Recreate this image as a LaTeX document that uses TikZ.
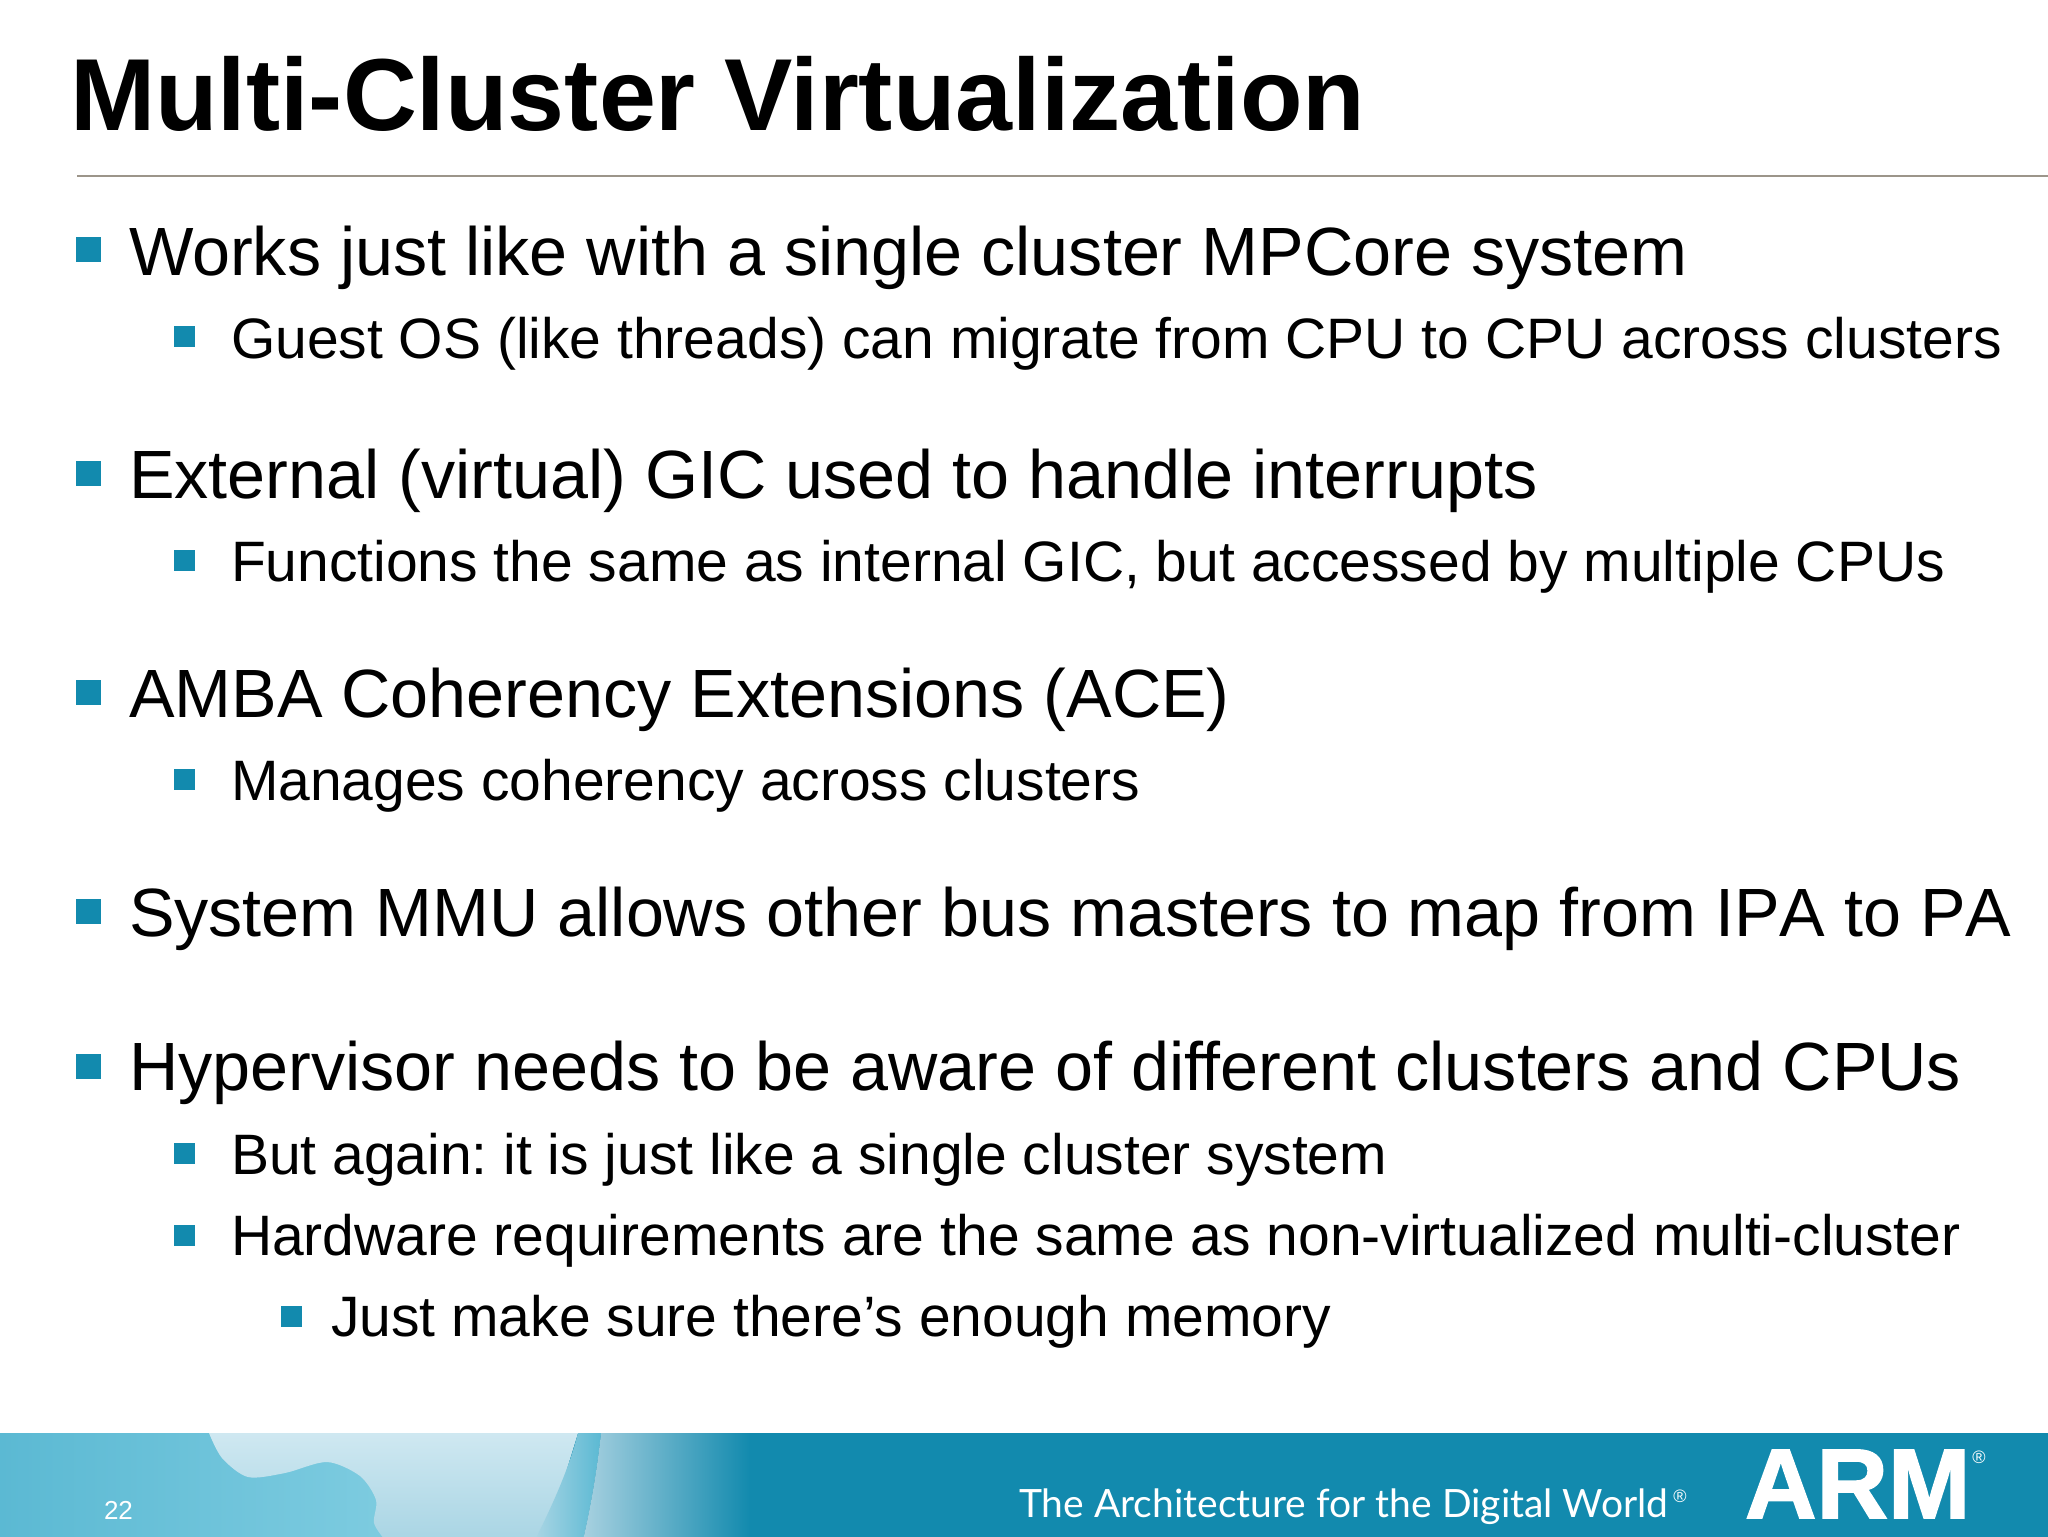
\documentclass[tikz,border=0pt]{standalone}
\usepackage{fontspec}
\setmainfont{Liberation Sans}
\newfontfamily\tagfont{Lato}
\newfontfamily\logofont[FakeBold=1.6]{Liberation Sans Bold}
\definecolor{armteal}{HTML}{128AAE}
\definecolor{rulegrey}{HTML}{9C958A}
\definecolor{seaedge}{HTML}{5BB9D3}
\definecolor{seamid}{HTML}{80CDE1}
\definecolor{landtop}{HTML}{CFE8F1}
\definecolor{landlow}{HTML}{A9D5E4}
\definecolor{limb}{HTML}{A8D1E0}

\begin{document}
\frenchspacing
\begin{tikzpicture}[x=0.5pt, y=-0.5pt]
        \tikzstyle{every node}=[inner sep=0pt, outer sep=0pt]
        \tikzstyle{title}=[anchor=base west, font=\fontsize{51.2}{60}\selectfont\bfseries]
        \tikzstyle{level one}=[anchor=base west, font=\fontsize{34.15}{42}\selectfont]
        \tikzstyle{level two}=[anchor=base west, font=\fontsize{28.5}{33}\selectfont]
        \tikzstyle{bullet one}=[fill=armteal, minimum size=12.5pt]
        \tikzstyle{bullet two}=[fill=armteal, minimum size=10.5pt]
        \useasboundingbox (0,0) rectangle (2048,1536);
        \fill[white] (0,0) rectangle (2048,1540);

        % footer band
        \fill[armteal] (0,1433) rectangle (2048,1540);
        \shade[left color=seaedge, right color=seamid] (0,1433) rectangle (420,1540);
        \shade[top color=landtop, bottom color=landlow] plot[smooth] coordinates {(209,1433) (222,1458) (248,1477) (285,1473) (327,1462) (360,1476) (376,1500) (374,1523) (385,1540)} -- (545,1540) -- (578,1433) -- cycle;
        \shade[left color=landlow, right color=seaedge] (601,1433) .. controls (597,1470) and (591,1505) .. (583,1540) -- (535,1540) .. controls (555,1500) and (570,1465) .. (578,1433) -- cycle;
        \shade[left color=limb, right color=armteal] (601,1433) .. controls (597,1470) and (591,1505) .. (583,1540) -- (750,1540) -- (750,1433) -- cycle;

        % slide text
        \node[title] (heading) at (70,131) {Multi-Cluster Virtualization};
        \draw[rulegrey, line width=1.4pt] (77,176) -- (2048,176);

        \node[bullet one] (mark1) at (88.5,249.5) {};
        \node[level one] (works) at (129,275) {Works just like with a single cluster MPCore system};
        \node[bullet two] (mark2) at (184.5,336.5) {};
        \node[level two] (guest) at (231,358) {Guest OS (like threads) can migrate from CPU to CPU across clusters};

        \node[bullet one] (mark3) at (88.5,473) {};
        \node[level one] (external) at (129,498) {External (virtual) GIC used to handle interrupts};
        \node[bullet two] (mark4) at (184.5,560) {};
        \node[level two] (functions) at (231,581) {Functions the same as internal GIC, but accessed by multiple CPUs};

        \node[bullet one] (mark5) at (88.5,692) {};
        \node[level one] (amba) at (129,717) {AMBA Coherency Extensions (ACE)};
        \node[bullet two] (mark6) at (184.5,779) {};
        \node[level two] (manages) at (231,800) {Manages coherency across clusters};

        \node[bullet one] (mark7) at (88.5,911.5) {};
        \node[level one] (system) at (129,936) {\addfontfeature{Kerning=Off}System MMU allows other bus masters to map from IPA to PA};

        \node[bullet one] (mark8) at (88.5,1066) {};
        \node[level one] (hypervisor) at (129,1090) {Hypervisor needs to be aware of different clusters and CPUs};
        \node[bullet two] (mark9) at (184.5,1153) {};
        \node[level two] (again) at (231,1174) {But again: it is just like a single cluster system};
        \node[bullet two] (mark10) at (184.5,1235) {};
        \node[level two] (hardware) at (231,1255) {Hardware requirements are the same as non-virtualized multi-cluster};
        \node[bullet two] (mark11) at (291,1316) {};
        \node[level two] (memory) at (331,1336) {Just make sure there’s enough memory};

        % footer text
        \node[anchor=base west, white, font=\fontsize{13}{15}\selectfont] (page) at (104,1519) {22};
        \node[anchor=base west, white, font=\fontsize{19.5}{23}\selectfont\tagfont] (tagline) at (1019,1517) {The Architecture for the Digital World};
        \node[anchor=center, white, font=\fontsize{9}{9}\selectfont] (tagmark) at (1680,1496) {®};
        \node[anchor=base west, white, font=\fontsize{49.5}{56}\selectfont\logofont] (logo) at (1745,1518) {ARM};
        \node[anchor=center, white, font=\fontsize{9}{9}\selectfont] (regmark) at (1979,1457) {®};
\end{tikzpicture}
\end{document}
